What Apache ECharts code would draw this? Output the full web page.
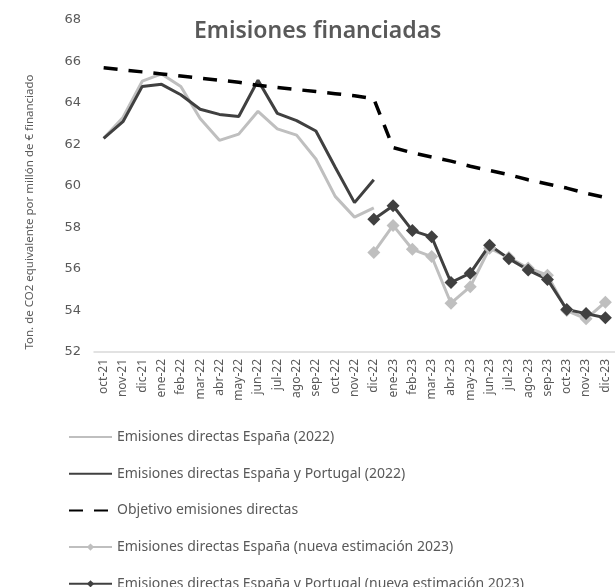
<!DOCTYPE html>
<html>
<head>
<meta charset="utf-8">
<script src="https://cdn.jsdelivr.net/npm/echarts@6/dist/echarts.min.js"></script>
<style>
  html, body { margin: 0; padding: 0; background: #fff; overflow: hidden; }
  #chart { width: 615px; height: 587px; }
</style>
</head>
<body>
<div id="chart"></div>
<script>
var months = [
  "oct-21", "nov-21", "dic-21",
  "ene-22", "feb-22", "mar-22", "abr-22", "may-22", "jun-22",
  "jul-22", "ago-22", "sep-22", "oct-22", "nov-22", "dic-22",
  "ene-23", "feb-23", "mar-23", "abr-23", "may-23", "jun-23",
  "jul-23", "ago-23", "sep-23", "oct-23", "nov-23", "dic-23"
];

// Emisiones directas España (2022)
var esp2022 = [62.3, 63.3, 65.05, 65.4, 64.8, 63.25, 62.2, 62.5, 63.6,
  62.75, 62.45, 61.3, 59.5, 58.5, 58.95,
  null, null, null, null, null, null, null, null, null, null, null, null];

// Emisiones directas España y Portugal (2022)
var espPor2022 = [62.3, 63.1, 64.8, 64.9, 64.4, 63.7, 63.45, 63.35, 65.1,
  63.5, 63.15, 62.65, 60.9, 59.2, 60.3,
  null, null, null, null, null, null, null, null, null, null, null, null];

// Objetivo emisiones directas
var objetivo = [65.7, 65.6, 65.5, 65.4, 65.3, 65.2, 65.1, 65.0, 64.85,
  64.75, 64.65, 64.55, 64.45, 64.35, 64.2,
  61.85, 61.6, 61.4, 61.2, 60.95, 60.75, 60.55, 60.3, 60.1, 59.9, 59.65, 59.45];

// Emisiones directas España (nueva estimación 2023)
var espNueva = [null, null, null, null, null, null, null, null, null,
  null, null, null, null, null, 56.8,
  58.1, 56.95, 56.6, 54.35, 55.15, 57.0, 56.55, 56.05, 55.7, 54.0, 53.6, 54.4];

// Emisiones directas España y Portugal (nueva estimación 2023)
var espPorNueva = [null, null, null, null, null, null, null, null, null,
  null, null, null, null, null, 58.4,
  59.05, 57.85, 57.55, 55.35, 55.8, 57.15, 56.5, 55.95, 55.5, 54.05, 53.85, 53.65];

var seriesNames = [
  "Emisiones directas España (2022)",
  "Emisiones directas España y Portugal (2022)",
  "Objetivo emisiones directas",
  "Emisiones directas España (nueva estimación 2023)",
  "Emisiones directas España y Portugal (nueva estimación 2023)"
];

var gris = "#595959";
var chart = echarts.init(document.getElementById("chart"), null, { renderer: "canvas" });

// las tres primeras series no llevan marcador: se oculta el símbolo en la leyenda
var legendData = seriesNames.map(function (n, i) {
  return i < 3 ? { name: n, itemStyle: { opacity: 0 } } : { name: n };
});

var option = {
  animation: false,
  backgroundColor: "#fff",
  textStyle: { fontFamily: "Noto Sans" },
  title: {
    text: "Emisiones financiadas",
    left: 189,
    top: 15,
    textStyle: { fontSize: 23, fontWeight: 600, color: gris, fontFamily: "Noto Sans" }
  },
  graphic: [{
    type: "text",
    x: 30,
    y: 212,
    rotation: Math.PI / 2,
    style: {
      text: "Ton. de CO2 equivalente por millón de € financiado",
      fill: gris,
      font: "11.5px 'Noto Sans'",
      align: "center",
      verticalAlign: "middle"
    }
  }],
  grid: { left: 94, right: -8, top: 20, bottom: 235, containLabel: false },
  legend: {
    orient: "vertical",
    left: 68,
    top: 430,
    height: 200,
    padding: 0,
    itemWidth: 43,
    itemHeight: 9,
    itemGap: 22.7,
    textStyle: { fontSize: 14, color: gris, fontFamily: "Noto Sans" },
    data: legendData
  },
  xAxis: {
    type: "category",
    data: months,
    boundaryGap: true,
    axisLine: { lineStyle: { color: "#d9d9d9", width: 1.5 } },
    axisTick: { show: false },
    axisLabel: { rotate: 90, fontSize: 12, color: gris, margin: 7, interval: 0 }
  },
  yAxis: {
    type: "value",
    min: 52,
    max: 68,
    interval: 2,
    axisLine: { show: false },
    axisTick: { show: false },
    splitLine: { show: false },
    axisLabel: { fontSize: 13, color: gris, margin: 13, fontFamily: "DejaVu Sans" }
  },
  series: [
    {
      name: seriesNames[0],
      type: "line",
      data: esp2022,
      symbol: "none",
      lineStyle: { color: "#bfbfbf", width: 3 },
      itemStyle: { color: "#bfbfbf" }
    },
    {
      name: seriesNames[1],
      type: "line",
      data: espPor2022,
      symbol: "none",
      lineStyle: { color: "#404040", width: 3 },
      itemStyle: { color: "#404040" }
    },
    {
      name: seriesNames[2],
      type: "line",
      data: objetivo,
      symbol: "none",
      lineStyle: { color: "#000", width: 3.5, type: [14, 11] },
      itemStyle: { color: "#000" }
    },
    {
      name: seriesNames[3],
      type: "line",
      data: espNueva,
      symbol: "diamond",
      symbolSize: 13,
      lineStyle: { color: "#bfbfbf", width: 3 },
      itemStyle: { color: "#bfbfbf" }
    },
    {
      name: seriesNames[4],
      type: "line",
      data: espPorNueva,
      symbol: "diamond",
      symbolSize: 13,
      lineStyle: { color: "#404040", width: 3 },
      itemStyle: { color: "#404040" }
    }
  ]
};

chart.setOption(option);
</script>
</body>
</html>
